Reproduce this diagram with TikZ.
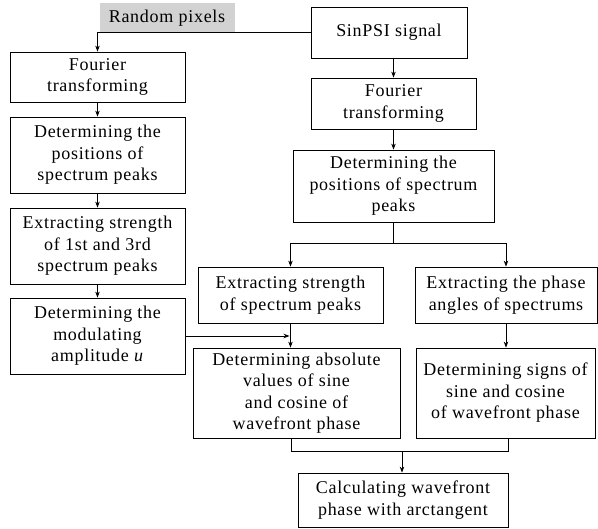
\documentclass[tikz,border=0pt]{standalone}
\usepackage{fontspec}
\setmainfont{Liberation Serif}[LetterSpace=4]
\usetikzlibrary{arrows.meta}
\newcommand{\fsz}{\fontsize{18}{21.5}\selectfont}
\tikzset{
  box/.style={draw, line width=0.8pt, inner sep=0pt, align=center, font=\fsz},
  conn/.style={line width=0.8pt},
  arr/.style={conn, -{Stealth[length=6pt,width=4.5pt]}},
}
\begin{document}
\begin{tikzpicture}[x=1pt,y=-1pt]
\useasboundingbox (0,0) rectangle (598,529);
% Random pixels label
\fill[gray!35] (100,3) rectangle (235,33);
\node[font=\fsz, inner sep=0pt] (rp) at (167,18) {Random pixels};
% left column
\node[box, minimum width=175pt, minimum height=50pt] (lf1) at (97.5,77) {Fourier\\transforming};
\node[box, minimum width=175pt, minimum height=76pt] (lf2) at (97.5,155) {Determining the\\positions of\\spectrum peaks};
\node[box, minimum width=175pt, minimum height=76pt] (lf3) at (97.5,246) {Extracting strength\\of 1st and 3rd\\spectrum peaks};
\node[box, minimum width=175pt, minimum height=76pt] (lf4) at (97.5,336) {Determining the\\modulating\\amplitude \textit{u}};
% right column
\node[box, minimum width=156pt, minimum height=51pt] (sin) at (389,32.5) {SinPSI signal};
\node[box, minimum width=165pt, minimum height=51pt] (rf1) at (393.5,103.5) {Fourier\\transforming};
\node[box, minimum width=201pt, minimum height=72pt] (rf2) at (393.5,186) {Determining the\\positions of spectrum\\peaks};
\node[box, minimum width=185pt, minimum height=56pt] (m1) at (290.5,295) {Extracting strength\\of spectrum peaks};
\node[box, minimum width=182pt, minimum height=56pt] (m2) at (506,295) {Extracting the phase\\angles of spectrums};
\node[box, minimum width=207pt, minimum height=90pt] (a1) at (296.5,393) {Determining absolute\\values of sine\\and cosine of\\wavefront phase};
\node[box, minimum width=179pt, minimum height=90pt] (s1) at (505.5,393) {Determining signs of\\sine and cosine\\of wavefront phase};
\node[box, minimum width=210pt, minimum height=54pt] (calc) at (403,500) {Calculating wavefront\\phase with arctangent};
% coordinates
\coordinate (br) at (393.5,243);
\coordinate (mg) at (402,451);
% connectors
\draw[arr] (sin.west) -- (sin.west -| lf1.north) -- (lf1.north);
\draw[arr] (lf1) -- (lf2);
\draw[arr] (lf2) -- (lf3);
\draw[arr] (lf3) -- (lf4);
\draw[arr] (sin.south -| rf1.north) -- (rf1.north);
\draw[arr] (rf1) -- (rf2);
\draw[conn] (rf2.south) -- (br);
\draw[arr] (br -| m1.north) -- (m1.north);
\draw[arr] (br -| m2.north) -- (m2.north);
\draw[conn] (br -| m1.north) -- (br -| m2.north);
\draw[arr] (m1.south) -- (m1.south |- a1.north);
\draw[arr] (lf4.east) -- ([xshift=-1pt]lf4.east -| m1.south);
\draw[arr] (m2.south) -- (m2.south |- s1.north);
\draw[conn] ([xshift=-5pt]a1.south) -- ([xshift=-5pt]a1.south |- mg) -- ([xshift=2.5pt]s1.south |- mg) -- ([xshift=2.5pt]s1.south);
\draw[arr] (mg) -- (mg |- calc.north);
\end{tikzpicture}
\end{document}
